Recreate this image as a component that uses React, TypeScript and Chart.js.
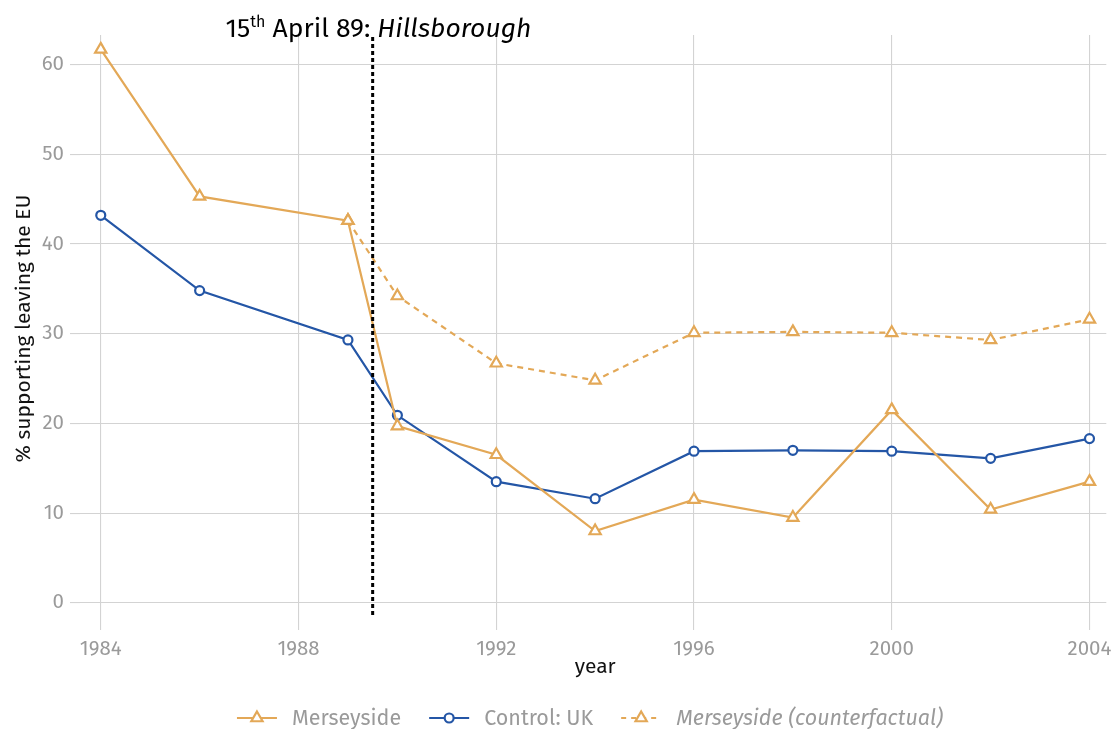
import React, { useEffect, useRef } from "react";
import { Chart, registerables } from "chart.js";

Chart.register(...registerables);

const years = [1984, 1986, 1989, 1990, 1992, 1994, 1996, 1998, 2000, 2002, 2004];
const merseyside = [61.7, 45.3, 42.6, 19.7, 16.5, 8.0, 11.5, 9.5, 21.5, 10.4, 13.5];
const controlUK = [43.2, 34.8, 29.3, 20.9, 13.5, 11.6, 16.9, 17.0, 16.9, 16.1, 18.3];
const cfYears = [1989, 1990, 1992, 1994, 1996, 1998, 2000, 2002, 2004];
const counterfactual = [42.6, 34.2, 26.7, 24.8, 30.1, 30.2, 30.1, 29.3, 31.6];
const xTicks = [1984, 1988, 1992, 1996, 2000, 2004];
const yTicks = [0, 10, 20, 30, 40, 50, 60];
const eventYear = 1989.5;
const seriesLabels = ["Merseyside", "Control: UK", "Merseyside (counterfactual)"];

const ORANGE = "#E3A857";
const BLUE = "#2456A6";
const FONT = "'Fira Sans', 'Open Sans', sans-serif";

const overlayPlugin = {
  id: "overlay",
  afterDatasetsDraw(chart: any) {
    const { ctx, chartArea, scales } = chart;
    const x = scales.x.getPixelForValue(eventYear);
    ctx.save();
    ctx.strokeStyle = "#000";
    ctx.lineWidth = 3;
    ctx.setLineDash([4, 3]);
    ctx.beginPath();
    ctx.moveTo(x, chartArea.top + 2);
    ctx.lineTo(x, chartArea.bottom);
    ctx.stroke();
    ctx.restore();
  },
  afterDraw(chart: any) {
    const { ctx, chartArea } = chart;
    ctx.save();
    // annotation
    const size = 26.5;
    const parts = [
      { t: "15", f: `normal ${size}px ${FONT}`, dy: 0 },
      { t: "th", f: `normal ${Math.round(size * 0.6)}px ${FONT}`, dy: -10 },
      { t: " April 89: ", f: `normal ${size}px ${FONT}`, dy: 0 },
      { t: "Hillsborough", f: `italic ${size}px ${FONT}`, dy: 0 },
    ];
    let total = 0;
    for (const p of parts) {
      ctx.font = p.f;
      total += ctx.measureText(p.t).width;
    }
    let ax = 378.5 - total / 2;
    ctx.fillStyle = "#000";
    ctx.textBaseline = "alphabetic";
    ctx.textAlign = "left";
    for (const p of parts) {
      ctx.font = p.f;
      ctx.fillText(p.t, ax, 37 + p.dy);
      ax += ctx.measureText(p.t).width;
    }
    // axis titles
    const cx = (chartArea.left + chartArea.right) / 2;
    ctx.font = `normal 21px ${FONT}`;
    ctx.fillStyle = "#111";
    ctx.textAlign = "center";
    ctx.textBaseline = "middle";
    ctx.fillText("year", cx + 2, 667);
    ctx.save();
    ctx.translate(24, (chartArea.top + chartArea.bottom) / 2 + 2);
    ctx.rotate(-Math.PI / 2);
    ctx.fillText("% supporting leaving the EU", 0, 0);
    ctx.restore();
    // legend
    const items = [
      { label: seriesLabels[0], color: ORANGE, dash: [], style: "triangle", italic: false },
      { label: seriesLabels[1], color: BLUE, dash: [], style: "circle", italic: false },
      { label: seriesLabels[2], color: ORANGE, dash: [5, 5], style: "triangle", italic: true },
    ];
    const keyW = 40, gapKT = 15, gapItems = 28;
    const fsz = 21.5;
    const widths = items.map((it) => {
      ctx.font = `${it.italic ? "italic" : "normal"} ${fsz}px ${FONT}`;
      return ctx.measureText(it.label).width;
    });
    let lw = 0;
    items.forEach((it, i) => { lw += keyW + gapKT + widths[i] + (i < items.length - 1 ? gapItems : 0); });
    let lx = 590 - lw / 2;
    const ly = 718;
    items.forEach((it, i) => {
      ctx.save();
      ctx.strokeStyle = it.color;
      ctx.lineWidth = 2.2;
      ctx.setLineDash(it.dash);
      ctx.beginPath();
      ctx.moveTo(lx, ly);
      ctx.lineTo(lx + keyW, ly);
      ctx.stroke();
      ctx.setLineDash([]);
      const mx = lx + keyW / 2;
      ctx.fillStyle = "#fff";
      ctx.beginPath();
      if (it.style === "circle") {
        ctx.arc(mx, ly, 4.5, 0, Math.PI * 2);
      } else {
        const r = 6.5;
        ctx.moveTo(mx, ly - r);
        ctx.lineTo(mx + r * 0.866, ly + r * 0.5);
        ctx.lineTo(mx - r * 0.866, ly + r * 0.5);
        ctx.closePath();
      }
      ctx.fill();
      ctx.stroke();
      ctx.restore();
      ctx.font = `${it.italic ? "italic" : "normal"} ${fsz}px ${FONT}`;
      ctx.fillStyle = "#9a9a9a";
      ctx.textAlign = "left";
      ctx.textBaseline = "middle";
      ctx.fillText(it.label, lx + keyW + gapKT, ly + 1);
      lx += keyW + gapKT + widths[i] + gapItems;
    });
    ctx.restore();
  },
};

export default function App() {
  const ref = useRef<HTMLCanvasElement | null>(null);
  useEffect(() => {
    document.body.style.margin = "0";
    const canvas = ref.current;
    if (!canvas) return;
    const chart = new Chart(canvas, {
      type: "line",
      data: {
        datasets: [
          {
            label: seriesLabels[2],
            data: cfYears.map((x, i) => ({ x, y: counterfactual[i] })),
            borderColor: ORANGE,
            backgroundColor: "#fff",
            borderWidth: 2.2,
            borderDash: [6, 5],
            pointStyle: "triangle",
            pointRadius: 6.5,
            pointBorderWidth: 2.2,
            tension: 0,
          },
          {
            label: seriesLabels[0],
            data: years.map((x, i) => ({ x, y: merseyside[i] })),
            borderColor: ORANGE,
            backgroundColor: "#fff",
            borderWidth: 2.2,
            pointStyle: "triangle",
            pointRadius: 6.5,
            pointBorderWidth: 2.2,
            tension: 0,
          },
          {
            label: seriesLabels[1],
            data: years.map((x, i) => ({ x, y: controlUK[i] })),
            borderColor: BLUE,
            backgroundColor: "#fff",
            borderWidth: 2.2,
            pointStyle: "circle",
            pointRadius: 4.5,
            pointBorderWidth: 2.2,
            tension: 0,
          },
        ],
      },
      options: {
        responsive: false,
        animation: false,
        devicePixelRatio: 1,
        layout: { padding: { left: 0, top: 35, right: 8, bottom: 0 } },
        plugins: { legend: { display: false }, tooltip: { enabled: false } },
        scales: {
          x: {
            type: "linear",
            min: 1983.58,
            max: 2004.34,
            afterBuildTicks: (s: any) => { s.ticks = xTicks.map((v) => ({ value: v })); },
            afterFit: (s: any) => { s.height = 111; s.paddingLeft = 0; s.paddingRight = 0; },
            grid: { color: "#d3d3d3", lineWidth: 1.1, tickLength: 12, tickColor: "#d3d3d3", drawTicks: true },
            border: { display: false },
            ticks: {
              color: "#9a9a9a",
              font: { family: FONT, size: 20.5 },
              padding: 7,
              maxRotation: 0,
              autoSkip: false,
              callback: (v: any) => String(v),
            },
          },
          y: {
            type: "linear",
            min: -1.7,
            max: 63.3,
            afterBuildTicks: (s: any) => { s.ticks = yTicks.map((v) => ({ value: v })); },
            afterFit: (s: any) => { s.width = 80; s.paddingTop = 0; s.paddingBottom = 0; },
            grid: { color: "#d3d3d3", lineWidth: 1.1, tickLength: 10, tickColor: "#d3d3d3" },
            border: { display: false },
            ticks: {
              color: "#9a9a9a",
              font: { family: FONT, size: 20.5 },
              padding: 6,
              autoSkip: false,
              callback: (v: any) => String(v),
            },
          },
        },
      },
      plugins: [overlayPlugin],
    } as any);
    return () => chart.destroy();
  }, []);
  return (
    <div style={{ position: "fixed", left: 0, top: 0, width: 1115, height: 729 }}>
      <canvas ref={ref} width={1115} height={729} style={{ width: 1115, height: 729 }} />
    </div>
  );
}
